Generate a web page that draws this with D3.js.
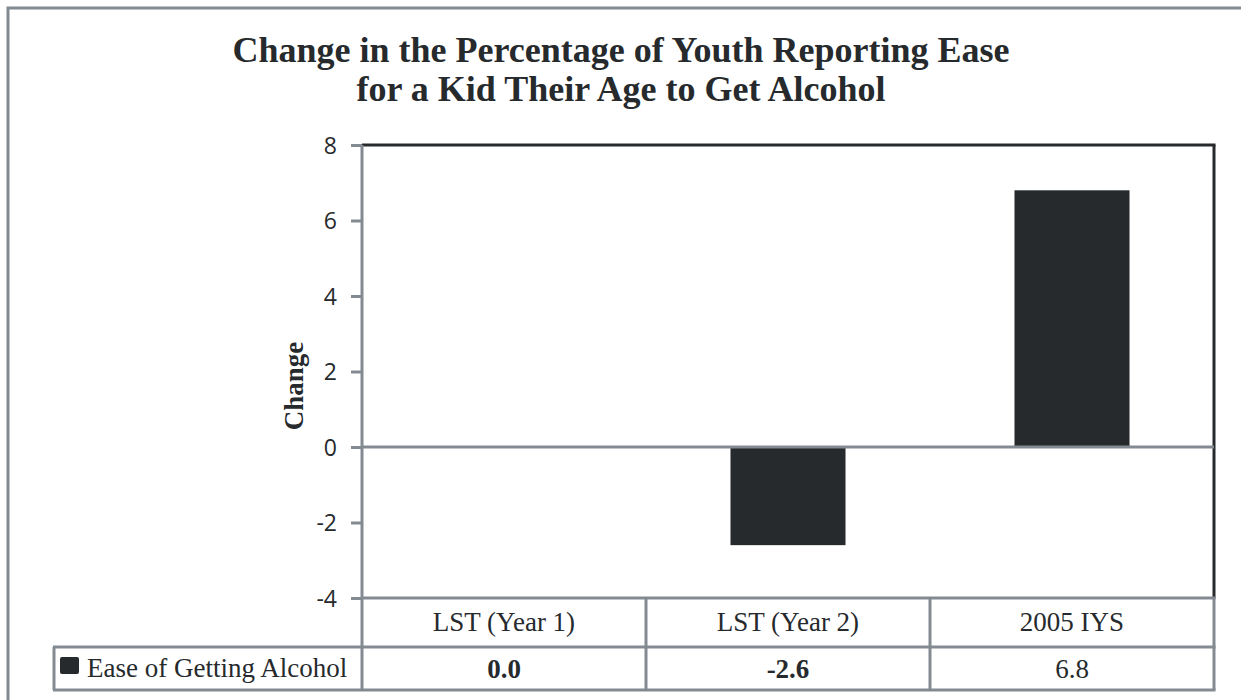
<!DOCTYPE html>
<html>
<head>
<meta charset="utf-8">
<script src="https://d3js.org/d3.v7.min.js"></script>
<style>
  body { margin: 0; background: #fff; }
  .serif { font-family: 'Liberation Serif', 'Times New Roman', serif; }
</style>
</head>
<body>
<div id="chart"></div>
<script>
var categories = ["LST (Year 1)", "LST (Year 2)", "2005 IYS"];
var values = [0.0, -2.6, 6.8];
var valueLabels = ["0.0", "-2.6", "6.8"];
var boldLabels = [true, true, false];
var seriesName = "Ease of Getting Alcohol";
var yTicks = [-4, -2, 0, 2, 4, 6, 8];
var titleLines = ["Change in the Percentage of Youth Reporting Ease",
                  "for a Kid Their Age to Get Alcohol"];

var svgWidth = 1241;
var svgHeight = 700;
var gray = "#838a91";
var dark = "#262a2d";

var plot = { left: 362, right: 1214, top: 145, bottom: 598 };

var svg = d3.select("#chart")
            .append("svg")
            .attr("width", svgWidth)
            .attr("height", svgHeight);

// outer frame
svg.append("rect")
   .attr("x", 8).attr("y", 8)
   .attr("width", 1250).attr("height", 720)
   .attr("fill", "none").attr("stroke", gray).attr("stroke-width", 3);

// title
svg.selectAll(".title")
   .data(titleLines)
   .enter().append("text")
   .attr("class", "serif")
   .attr("x", 621)
   .attr("y", (d, i) => 62 + i * 39)
   .attr("text-anchor", "middle")
   .attr("font-weight", "bold")
   .attr("font-size", 36)
   .attr("fill", dark)
   .text(d => d);

var xScale = d3.scaleBand()
               .domain(categories)
               .range([plot.left, plot.right])
               .paddingInner(0.595)
               .paddingOuter(0.2975);

var yScale = d3.scaleLinear()
               .domain([-4, 8])
               .range([plot.bottom, plot.top]);

// plot frame (top/right dark)
svg.append("line")
   .attr("x1", plot.left).attr("x2", plot.right + 1.5)
   .attr("y1", plot.top).attr("y2", plot.top)
   .attr("stroke", dark).attr("stroke-width", 3);
svg.append("line")
   .attr("x1", plot.right).attr("x2", plot.right)
   .attr("y1", plot.top).attr("y2", plot.bottom)
   .attr("stroke", dark).attr("stroke-width", 3);

// bars
svg.selectAll(".bar")
   .data(values)
   .enter().append("rect")
   .attr("class", "bar")
   .attr("x", (d, i) => xScale(categories[i]))
   .attr("width", xScale.bandwidth())
   .attr("y", d => yScale(Math.max(0, d)))
   .attr("height", d => Math.abs(yScale(d) - yScale(0)))
   .attr("fill", dark);

// zero line
svg.append("line")
   .attr("x1", plot.left).attr("x2", plot.right)
   .attr("y1", yScale(0)).attr("y2", yScale(0))
   .attr("stroke", gray).attr("stroke-width", 3);

// y axis
var yAxis = d3.axisLeft(yScale)
              .tickValues(yTicks)
              .tickFormat(d => String(d))
              .tickSize(11)
              .tickPadding(14);
var gy = svg.append("g")
   .attr("transform", `translate(${plot.left}, 0)`)
   .call(yAxis);
gy.attr("font-family", "'Open Sans', sans-serif").attr("font-size", 23);
gy.select(".domain").remove();
gy.selectAll(".tick line").attr("stroke", gray).attr("stroke-width", 3);
gy.selectAll(".tick text").attr("fill", dark).attr("dy", "0.36em");
svg.append("line")
   .attr("x1", plot.left).attr("x2", plot.left)
   .attr("y1", plot.top).attr("y2", 690)
   .attr("stroke", gray).attr("stroke-width", 3);

// y axis title
svg.append("text")
   .attr("class", "serif")
   .attr("transform", "translate(303, 386) rotate(-90)")
   .attr("text-anchor", "middle")
   .attr("font-weight", "bold")
   .attr("font-size", 27)
   .attr("fill", dark)
   .text("Change");

// data table
var rowTop = plot.bottom, rowMid = 647, rowBot = 690;
var colEdges = categories.map(c => xScale(c) - xScale.step() * xScale.paddingInner() / 2);
colEdges.push(plot.right);

svg.append("line")
   .attr("x1", plot.left).attr("x2", plot.right + 1.5)
   .attr("y1", rowTop).attr("y2", rowTop)
   .attr("stroke", gray).attr("stroke-width", 3);
svg.append("line")
   .attr("x1", 53).attr("x2", plot.right + 1.5)
   .attr("y1", rowMid).attr("y2", rowMid)
   .attr("stroke", gray).attr("stroke-width", 3);
svg.append("line")
   .attr("x1", 53).attr("x2", plot.right + 1.5)
   .attr("y1", rowBot).attr("y2", rowBot)
   .attr("stroke", gray).attr("stroke-width", 3);
svg.append("line")
   .attr("x1", 54).attr("x2", 54)
   .attr("y1", rowMid).attr("y2", rowBot)
   .attr("stroke", gray).attr("stroke-width", 3);
svg.selectAll(".colline")
   .data(colEdges.slice(1))
   .enter().append("line")
   .attr("x1", d => d).attr("x2", d => d)
   .attr("y1", rowTop).attr("y2", rowBot)
   .attr("stroke", gray).attr("stroke-width", 3);

svg.selectAll(".cat")
   .data(categories)
   .enter().append("text")
   .attr("class", "serif")
   .attr("x", d => xScale(d) + xScale.bandwidth() / 2)
   .attr("y", 631)
   .attr("text-anchor", "middle")
   .attr("font-size", 27)
   .attr("fill", dark)
   .text(d => d);

svg.selectAll(".val")
   .data(valueLabels)
   .enter().append("text")
   .attr("class", "serif")
   .attr("x", (d, i) => xScale(categories[i]) + xScale.bandwidth() / 2)
   .attr("y", 678)
   .attr("text-anchor", "middle")
   .attr("font-size", 27)
   .attr("font-weight", (d, i) => boldLabels[i] ? "bold" : "normal")
   .attr("fill", dark)
   .text(d => d);

// legend key
svg.append("rect")
   .attr("x", 60).attr("y", 657)
   .attr("width", 19).attr("height", 17)
   .attr("rx", 2)
   .attr("fill", dark);
svg.append("text")
   .attr("class", "serif")
   .attr("x", 87).attr("y", 677)
   .attr("font-size", 27)
   .attr("fill", dark)
   .text(seriesName);
</script>
</body>
</html>
